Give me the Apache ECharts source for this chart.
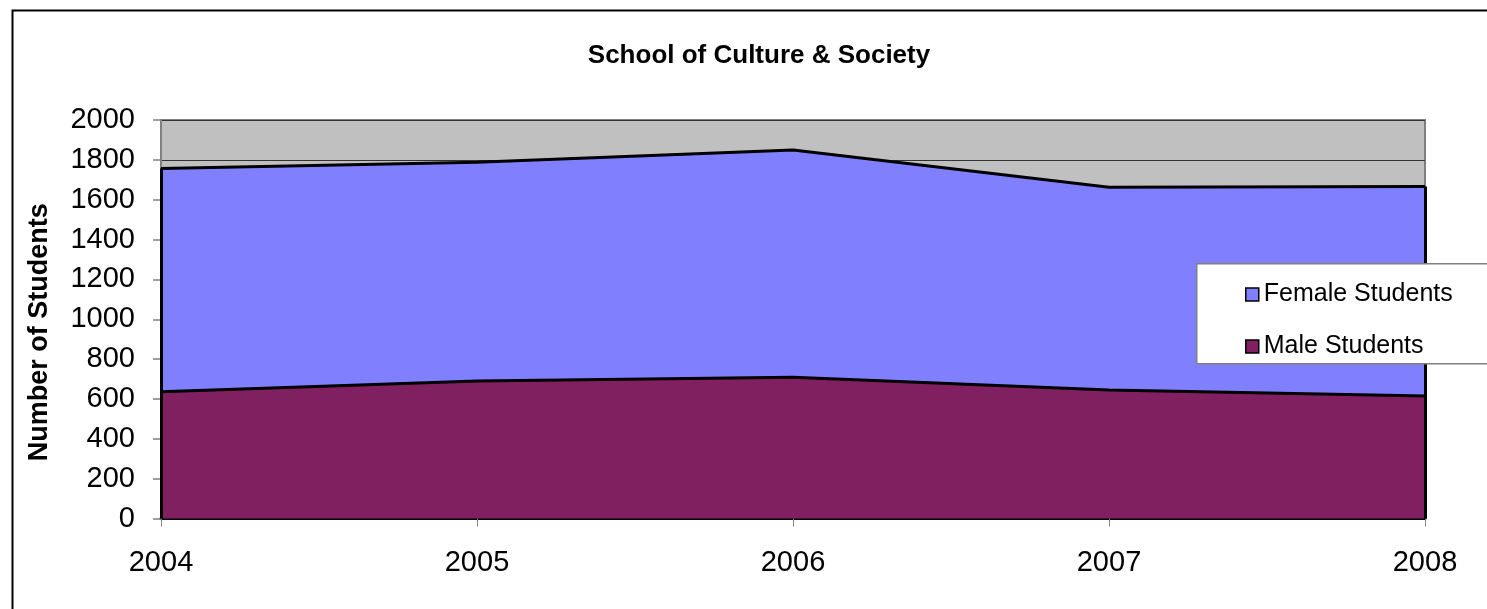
<!DOCTYPE html>
<html>
<head>
<meta charset="utf-8">
<script src="https://cdn.jsdelivr.net/npm/echarts@6/dist/echarts.min.js"></script>
<style>
html,body{margin:0;padding:0;background:#fff;}
#chart{width:1487px;height:609px;}
</style>
</head>
<body>
<div id="chart"></div>
<script>
var titleText = 'School of Culture & Society';
var yAxisName = 'Number of Students';
var categories = ['2004', '2005', '2006', '2007', '2008'];
var maleStudents = [636, 690, 709, 645, 615];
var femaleStudents = [1121, 1098, 1140, 1018, 1051];
var seriesNames = ['Male Students', 'Female Students'];

var totals = maleStudents.map(function (m, i) { return m + femaleStudents[i]; });
var first = categories[0], last = categories[categories.length - 1];

var chart = echarts.init(document.getElementById('chart'));
chart.setOption({
  animation: false,
  backgroundColor: '#ffffff',
  title: {
    text: titleText,
    left: 754,
    top: 38,
    textAlign: 'center',
    textStyle: { fontFamily: 'Liberation Sans, Arial', fontWeight: 'bold', fontSize: 26, color: '#000' }
  },
  graphic: [
    { type: 'rect', left: 10, top: 8, shape: { width: 1500, height: 620 }, style: { fill: 'none', stroke: '#000', lineWidth: 2 }, z: 0, silent: true },
    { type: 'rect', left: 1196, top: 263, shape: { width: 300, height: 100 }, style: { fill: '#fff', stroke: '#808080', lineWidth: 1.5 }, z: 50, silent: true }
  ],
  legend: {
    orient: 'vertical',
    left: 1240,
    top: 277,
    z: 100,
    itemGap: 27,
    itemWidth: 13,
    itemHeight: 13,
    icon: 'rect',
    data: [seriesNames[1], seriesNames[0]],
    textStyle: { fontFamily: 'Liberation Sans, Arial', fontSize: 25, color: '#000', lineHeight: 24 },
    itemStyle: { borderColor: '#000', borderWidth: 1.5 }
  },
  grid: {
    left: 161, top: 120, width: 1264, height: 398.5,
    show: true, backgroundColor: '#C0C0C0', borderColor: '#808080', borderWidth: 2
  },
  xAxis: {
    type: 'category',
    boundaryGap: false,
    data: categories,
    axisLine: { lineStyle: { color: '#000', width: 3 } },
    axisTick: { show: true, length: 8, lineStyle: { color: '#808080', width: 1 } },
    axisLabel: { margin: 30, fontFamily: 'Liberation Sans, Arial', fontSize: 29, color: '#000' },
    splitLine: { show: false }
  },
  yAxis: {
    type: 'value',
    min: 0, max: 2000, interval: 200,
    name: yAxisName,
    nameLocation: 'middle',
    nameRotate: 90,
    nameGap: 108,
    nameTextStyle: { fontFamily: 'Liberation Sans, Arial', fontWeight: 'bold', fontSize: 27, color: '#000', padding: [0, 26, 0, 0] },
    axisLine: { show: true, lineStyle: { color: '#808080', width: 2 } },
    axisTick: { show: true, length: 8, lineStyle: { color: '#808080', width: 1.5 } },
    axisLabel: { margin: 26, fontFamily: 'Liberation Sans, Arial', fontSize: 29, color: '#000', formatter: function (v) { return String(v); } },
    splitLine: { show: true, lineStyle: { color: '#333', width: 1 } }
  },
  series: [
    {
      name: seriesNames[0], type: 'line', stack: 'total', data: maleStudents,
      symbol: 'none', lineStyle: { color: '#000', width: 3 },
      itemStyle: { color: '#802060' },
      areaStyle: { color: '#802060', opacity: 1 },
      markLine: {
        silent: true, symbol: 'none', label: { show: false },
        lineStyle: { color: '#000', width: 3, type: 'solid' },
        data: [
          [{ coord: [first, 0] }, { coord: [first, totals[0]] }],
          [{ coord: [last, 0] }, { coord: [last, totals[totals.length - 1]] }]
        ]
      }
    },
    {
      name: seriesNames[1], type: 'line', stack: 'total', data: femaleStudents,
      symbol: 'none', lineStyle: { color: '#000', width: 3 },
      itemStyle: { color: '#8080FF' },
      areaStyle: { color: '#8080FF', opacity: 1 }
    }
  ]
});
</script>
</body>
</html>
